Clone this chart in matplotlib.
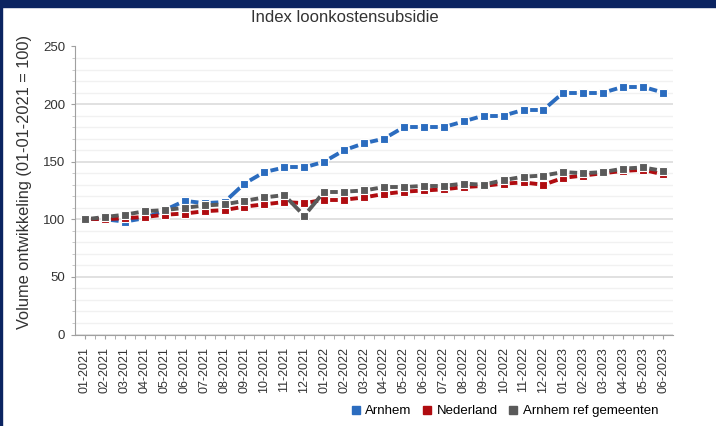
import numpy as np
import matplotlib
matplotlib.use('Agg')
import matplotlib.pyplot as plt
from matplotlib.lines import Line2D
from matplotlib.patches import Rectangle

plt.rcParams['font.family'] = ['Liberation Sans', 'DejaVu Sans']
plt.rcParams['lines.scale_dashes'] = False

# data
months = ['01-2021', '02-2021', '03-2021', '04-2021', '05-2021', '06-2021',
          '07-2021', '08-2021', '09-2021', '10-2021', '11-2021', '12-2021',
          '01-2022', '02-2022', '03-2022', '04-2022', '05-2022', '06-2022',
          '07-2022', '08-2022', '09-2022', '10-2022', '11-2022', '12-2022',
          '01-2023', '02-2023', '03-2023', '04-2023', '05-2023', '06-2023']
arnhem = [100, 100, 98, 101, 108, 116, 114, 115, 131, 141, 145, 145,
          150, 160, 166, 170, 180, 180, 180, 185, 190, 190, 195, 195,
          210, 210, 210, 215, 215, 210]
nederland = [100, 100, 101, 102, 104, 105, 107, 108, 111, 113, 115, 114,
             117, 117, 119, 122, 124, 125, 126, 128, 129, 131, 132, 130,
             136, 138, 140, 142, 143, 139]
ref_gemeenten = [100, 102, 104, 107, 108, 110, 112, 113, 116, 119, 121, 103,
                 124, 124, 125, 128, 128, 129, 129, 131, 130, 134, 137, 138,
                 141, 140, 141, 144, 145, 142]

series = [('Arnhem', arnhem, '#2b6cbf'),
          ('Nederland', nederland, '#b00c10'),
          ('Arnhem ref gemeenten', ref_gemeenten, '#5a5a5a')]

fig = plt.figure(figsize=(7.16, 4.26), dpi=100)
fig.patch.set_facecolor('white')

# navy frame of the screenshot
fig.patches.append(Rectangle((0, 1 - 7 / 426), 1, 7 / 426, transform=fig.transFigure,
                             color='#0b2461', zorder=0))
fig.patches.append(Rectangle((0, 0), 2 / 716, 1, transform=fig.transFigure,
                             color='#0b2461', zorder=0))

ax = fig.add_axes([75 / 716, 1 - 334.5 / 426, 598 / 716, 288 / 426])
x = np.arange(len(months))
ax.set_xlim(-0.5, len(months) - 0.5)
ax.set_ylim(0, 250)

dash = 5.5  # points, one dash centred between two markers
for name, vals, col in series:
    pts = ax.transData.transform(np.column_stack([x, vals]))
    for i in range(len(x) - 1):
        seg = np.hypot(*(pts[i + 1] - pts[i])) * 72 / fig.dpi
        d = max(dash, seg - 9)
        gap = (seg - d) / 2
        ax.plot(x[i:i + 2], vals[i:i + 2], color=col, linewidth=2.8,
                linestyle=(d + 100 - gap, (d, 100)), solid_capstyle='butt')
    ax.plot(x, vals, linestyle='none', marker='s', markersize=6.3, color=col,
            markeredgewidth=0.8, markeredgecolor='white', label=name)

ax.set_yticks(np.arange(0, 251, 50))
ax.set_yticks(np.arange(0, 251, 10), minor=True)
ax.set_xticks(x)
ax.set_xticklabels(months, rotation=90)
ax.set_xticks(x[:-1] + 0.5, minor=True)

ax.grid(axis='y', which='major', color='#dcdcdc', linewidth=1.2)
ax.grid(axis='y', which='minor', color='#f1f1f1', linewidth=1)
ax.set_axisbelow(True)

for s in ['top', 'right']:
    ax.spines[s].set_visible(False)
for s in ['left', 'bottom']:
    ax.spines[s].set_color('#a0a0a0')

ax.tick_params(axis='y', which='major', length=3, color='#a0a0a0', labelsize=9.5,
               labelcolor='#333333', pad=4)
ax.tick_params(axis='y', which='minor', length=2, color='#c0c0c0')
ax.tick_params(axis='x', which='both', length=3, color='#a0a0a0', labelsize=9,
               labelcolor='#333333', pad=6)

fig.text(345 / 716, 1 - 17 / 426, 'Index loonkostensubsidie', ha='center', va='center',
         fontsize=12, color='#333333')
fig.text(25 / 716, 1 - 182 / 426, 'Volume ontwikkeling (01-01-2021 = 100)', rotation=90,
         ha='center', va='center', fontsize=11.8, color='#333333')

handles = [Line2D([], [], marker='s', linestyle='none', color=c, markersize=6)
           for _, _, c in series]
fig.legend(handles, [n for n, _, _ in series], loc='center right', ncol=3,
           bbox_to_anchor=(670 / 716, 1 - 411 / 426), frameon=False, fontsize=9.5,
           handletextpad=0.1, columnspacing=0.6, handlelength=1.2)

fig.savefig('out.png', dpi=100)
